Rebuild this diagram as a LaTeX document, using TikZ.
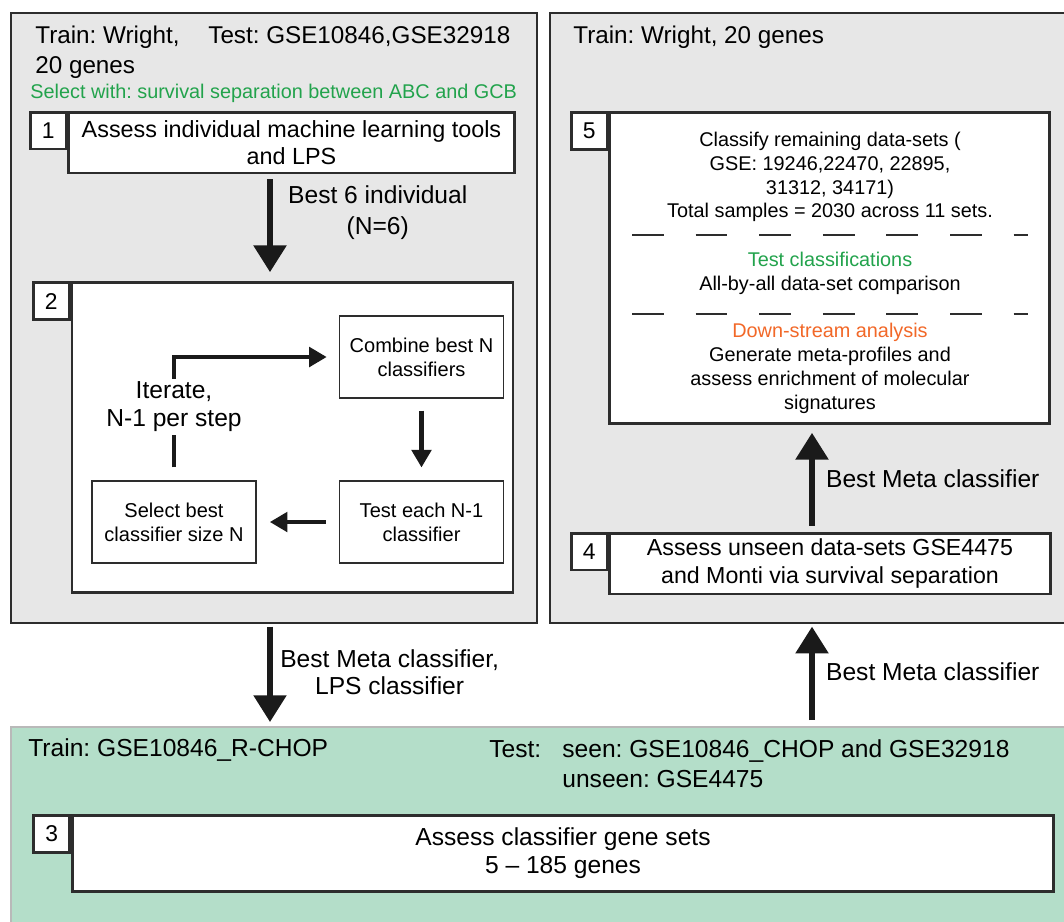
\documentclass[tikz,border=0pt]{standalone}
\usepackage{fontspec}
\setmainfont{Liberation Sans}
\usetikzlibrary{arrows.meta}
\definecolor{panelgray}{RGB}{231,231,231}
\definecolor{panelgreen}{RGB}{180,222,201}
\definecolor{selgreen}{RGB}{34,163,76}
\definecolor{dsorange}{RGB}{242,104,40}
\definecolor{edge}{RGB}{45,45,45}
\definecolor{ink}{RGB}{26,26,26}
\newcommand{\fsz}[2]{\fontsize{#1}{#2}\selectfont}
\frenchspacing

\begin{document}
\begin{tikzpicture}[x=0.02cm,y=-0.02cm,
  panel/.style={draw=edge, line width=0.9pt, fill=panelgray, inner sep=0pt},
  stepbox/.style={draw=edge, line width=1.6pt, fill=white, inner sep=0pt, align=center},
  numbox/.style={draw=edge, line width=1.6pt, fill=white, inner sep=0pt,
                 minimum width=20.4pt, minimum height=21pt, font=\fsz{13}{15}},
  subbox/.style={draw=edge, line width=0.8pt, fill=white, inner sep=0pt, align=center,
                 minimum width=93.5pt, minimum height=46.5pt, font=\fsz{11.4}{13.8}},
  hdtext/.style={inner sep=0pt, anchor=base west, font=\fsz{13.8}{16}},
  gtext/.style={inner sep=0pt, anchor=base west, font=\fsz{14}{16}},
  arrowlab/.style={inner sep=0pt, align=center, font=\fsz{14}{17}},
  bigarrow/.style={draw=ink, line width=3.7pt, -{Triangle[width=18pt,length=15.3pt]}},
  smallarrow/.style={draw=ink, line width=2.4pt, -{Triangle[width=11pt,length=10pt]}},
  loopline/.style={draw=ink, line width=2.4pt},
  sepline/.style={draw=edge, line width=0.6pt, dash pattern=on 18.1pt off 18.1pt}]

\useasboundingbox (0,0) rectangle (1064,921);

\node[panel, minimum width=299.4pt, minimum height=346.9pt] (lp) at (274,318) {};
\node[panel, minimum width=301pt, minimum height=346.9pt] (rp) at (814.5,318) {};
\node[panel, draw=gray!55, fill=panelgreen, minimum width=601.5pt, minimum height=115.6pt] (gp) at (539.5,828.5) {};

\node[hdtext] (hlt) at (35,43) {Train: Wright,};
\node[hdtext] (htest) at (208,43) {Test: GSE10846,GSE32918};
\node[hdtext] (hgenes) at (35,73) {20 genes};
\node[hdtext, text=selgreen, font=\fsz{11.3}{13}] (hsel) at (30,98)
  {Select with: survival separation between ABC and GCB};
\node[hdtext] (hrt) at (573,43) {Train: Wright, 20 genes};

\node[stepbox, minimum width=253.4pt, minimum height=34.6pt, font=\fsz{13.3}{15.3}] (b1) at (291.5,142.5)
  {Assess individual machine learning tools\\and LPS};
\node[numbox, anchor=north east] (n1) at (b1.north west) {1};

\node[stepbox, minimum width=251.1pt, minimum height=176.3pt] (b2) at (292.5,437.5) {};
\node[numbox, anchor=north east] (n2) at (b2.north west) {2};

\node[subbox] (comb) at (421.5,357) {Combine best N\\classifiers};
\node[subbox] (test) at (421.5,522) {Test each N-1\\classifier};
\node[subbox] (sel) at (174,522) {Select best\\classifier size N};
\node[inner sep=0pt, align=center, font=\fsz{14}{16}] (iter) at (174,407) {Iterate,\\N-1 per step};

\draw[smallarrow, shorten <=6.8pt, shorten >=7.4pt] (comb.south) -- (test.north);
\draw[smallarrow, shorten <=7.4pt, shorten >=7.4pt] (test.west) -- (sel.east);
\draw[loopline, shorten <=7.4pt, shorten >=1.5pt] (sel.north) -- (iter.south);
\draw[smallarrow, shorten <=1.5pt, shorten >=6.8pt] (iter.north) |- (comb.west);

\node[stepbox, minimum width=250pt, minimum height=176.9pt] (b5) at (829.5,268) {};
\node[numbox, anchor=north east] (n5) at (b5.north west) {5};
\node[inner sep=0pt, align=center, font=\fsz{11.3}{13.6}] (b5a) at (830,177)
  {Classify remaining data-sets (\\GSE: 19246,22470, 22895,\\31312, 34171)\\Total samples = 2030 across 11 sets.};
\draw[sepline] (632,235) -- (1028,235);
\node[inner sep=0pt, align=center, font=\fsz{11.3}{13.6}] (b5b) at (830,273)
  {\textcolor{selgreen}{Test classifications}\\All-by-all data-set comparison};
\draw[sepline] (632,314) -- (1028,314);
\node[inner sep=0pt, align=center, font=\fsz{11.3}{13.6}] (b5c) at (830,368.5)
  {\textcolor{dsorange}{Down-stream analysis}\\Generate meta-profiles and\\assess enrichment of molecular\\signatures};

\node[stepbox, minimum width=250.6pt, minimum height=34.6pt, font=\fsz{13.2}{15.9}] (b4) at (830,563.5)
  {Assess unseen data-sets GSE4475\\and Monti via survival separation};
\node[numbox, anchor=north east] (n4) at (b4.north west) {4};

\node[gtext] (gtrain) at (28,756) {Train: GSE10846\_R-CHOP};
\node[gtext] (gtest) at (489,757) {Test:};
\node[gtext] (gseen) at (562,757) {seen: GSE10846\_CHOP and GSE32918};
\node[gtext] (gunseen) at (562,787) {unseen: GSE4475};

\node[stepbox, minimum width=558.4pt, minimum height=43.6pt, font=\fsz{14}{15.9}] (b3) at (563,853.5)
  {Assess classifier gene sets\\5 – 185 genes};
\node[numbox, anchor=north east] (n3) at (b3.north west) {3};

\coordinate (lx) at (270,0);
\coordinate (rx) at (812,0);
\draw[bigarrow, shorten <=2.8pt, shorten >=5.1pt] (b1.south -| lx) --
  node[pos=0.36, right=8.5pt, arrowlab, font=\fsz{14}{17.6}] {Best 6 individual\\(N=6)} (b2.north -| lx);
\draw[bigarrow, shorten <=1.7pt, shorten >=2.3pt] (lp.south -| lx) --
  node[pos=0.475, right=4pt, arrowlab, font=\fsz{14}{15.3}] {Best Meta classifier,\\LPS classifier} (gp.north -| lx);
\draw[bigarrow, shorten <=3.4pt, shorten >=1.7pt] (gp.north -| rx) --
  node[pos=0.53, right=6.2pt, arrowlab] {Best Meta classifier} (rp.south -| rx);
\draw[bigarrow, shorten <=3.4pt, shorten >=4.5pt] (b4.north -| rx) --
  node[pos=0.5, right=6.2pt, arrowlab] {Best Meta classifier} (b5.south -| rx);
\end{tikzpicture}
\end{document}
